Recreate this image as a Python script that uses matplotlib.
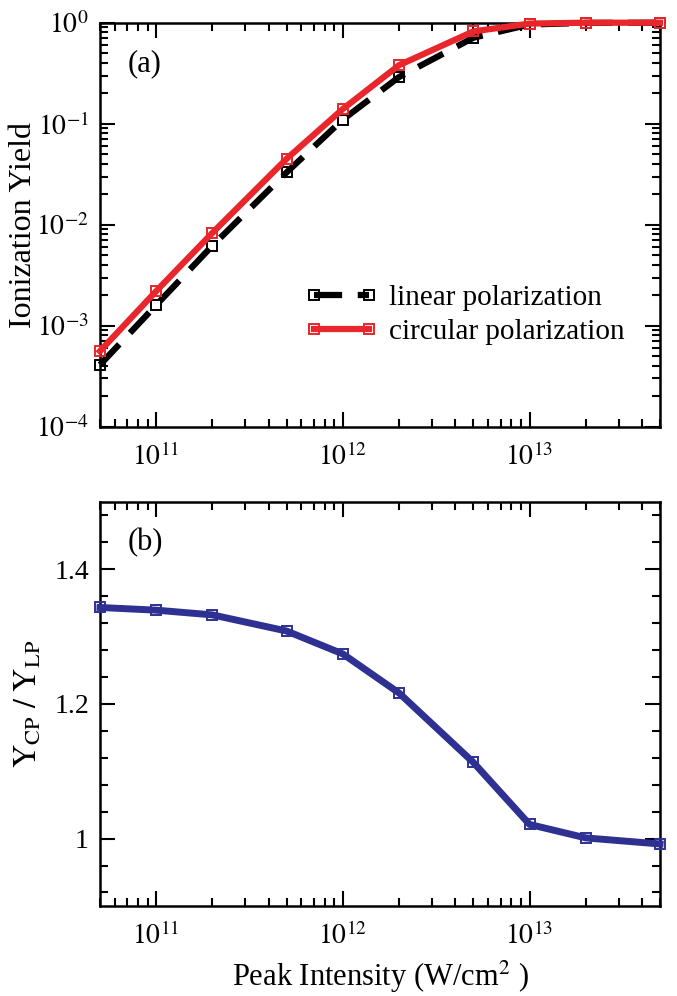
import numpy as np
import matplotlib
matplotlib.use("Agg")
import matplotlib.pyplot as plt
from matplotlib.ticker import LogLocator, FixedLocator, MultipleLocator, NullFormatter, FuncFormatter

# ---------------- data ----------------
intensity = [5e10, 1e11, 2e11, 5e11, 1e12, 2e12, 5e12, 1e13, 2e13, 5e13]
yield_linear = [4.1e-4, 1.6e-3, 6.2e-3, 0.033, 0.11, 0.29, 0.71, 0.96, 0.995, 1.0]
yield_circular = [5.6e-4, 2.2e-3, 8.3e-3, 0.045, 0.14, 0.38, 0.82, 0.98, 1.0, 1.0]
ratio_cp_lp = [1.343, 1.339, 1.332, 1.308, 1.274, 1.216, 1.113, 1.021, 1.001, 0.992]
label_linear = "linear polarization"
label_circular = "circular polarization"

plt.rcParams['font.family'] = ['Liberation Serif', 'DejaVu Serif']
plt.rcParams['mathtext.fontset'] = 'stix'

RED = '#e8262b'
BLUE = '#2e3192'
FS = 20

fig = plt.figure(figsize=(6.77, 9.96), dpi=100)
ax1 = fig.add_axes([0.1477, 0.5716, 0.975 - 0.1477, 0.9772 - 0.5716])
ax2 = fig.add_axes([0.1477, 0.0904, 0.975 - 0.1477, 0.4963 - 0.0904])

def style(ax):
    for s in ax.spines.values():
        s.set_linewidth(1.8)
    ax.tick_params(which='both', direction='in', top=True, right=True,
                   labelsize=FS, width=1.5)
    ax.tick_params(axis='x', which='both', pad=12)
    ax.tick_params(axis='y', which='both', pad=8)
    ax.tick_params(which='major', length=11)
    ax.tick_params(which='minor', length=5.5)

def pow10(v, pos):
    e = int(round(np.log10(v)))
    return r'$10^{%d}$' % e

for ax in (ax1, ax2):
    ax.set_xscale('log')
    ax.set_xlim(5e10, 5e13)

# ---- panel (a)
ax1.set_yscale('log')
ax1.plot(intensity, yield_linear, color='black', lw=4.5, dashes=(4.5, 2.5),
         marker='s', ms=7.5, mfc='none', mec='black', mew=1.4, label=label_linear,
         clip_on=False, zorder=3)
ax1.plot(intensity, yield_circular, color=RED, lw=4.5,
         marker='s', ms=7.5, mfc='none', mec=RED, mew=1.4, label=label_circular,
         clip_on=False, zorder=4)
ax1.set_ylim(1e-4, 1)
style(ax1)
for ax in (ax1, ax2):
    ax.xaxis.set_major_locator(FixedLocator([1e11, 1e12, 1e13]))
    ax.xaxis.set_major_formatter(FuncFormatter(pow10))
    ax.xaxis.set_minor_locator(LogLocator(base=10, subs=np.arange(2, 10), numticks=20))
    ax.xaxis.set_minor_formatter(NullFormatter())
ax1.yaxis.set_major_locator(FixedLocator([1e-4, 1e-3, 1e-2, 1e-1, 1]))
ax1.yaxis.set_major_formatter(FuncFormatter(pow10))
ax1.yaxis.set_minor_locator(LogLocator(base=10, subs=np.arange(2, 10), numticks=20))
ax1.yaxis.set_minor_formatter(NullFormatter())
ax1.set_ylabel('Ionization Yield', fontsize=23)
ax1.yaxis.set_label_coords(-0.11, 0.5)
ax1.text(0.05, 0.898, '(a)', transform=ax1.transAxes, fontsize=22, va='center', ha='left')
ax1.legend(loc='upper left', bbox_to_anchor=(0.345, 0.38), frameon=False, fontsize=21,
           numpoints=2, handlelength=2.5, handletextpad=0.4, labelspacing=0.25,
           borderaxespad=0)

# ---- panel (b)
ax2.plot(intensity, ratio_cp_lp, color=BLUE, lw=5,
         marker='s', ms=7.5, mfc='none', mec=BLUE, mew=1.4, clip_on=False, zorder=3)
ax2.set_ylim(0.9, 1.5)
style(ax2)
ax2.yaxis.set_major_locator(FixedLocator([1.0, 1.2, 1.4]))
ax2.yaxis.set_major_formatter(FuncFormatter(lambda v, p: '%g' % v))
ax2.yaxis.set_minor_locator(MultipleLocator(0.04))
ax2.set_ylabel(r'$\mathrm{Y_{CP}\ /\ Y_{LP}}$', fontsize=23)
ax2.yaxis.set_label_coords(-0.10, 0.5)
ax2.text(0.05, 0.898, '(b)', transform=ax2.transAxes, fontsize=22, va='center', ha='left')
ax2.set_xlabel(r'Peak Intensity (W/cm$^{2}$ )', fontsize=22, labelpad=6)

fig.savefig('out.png', dpi=100)
